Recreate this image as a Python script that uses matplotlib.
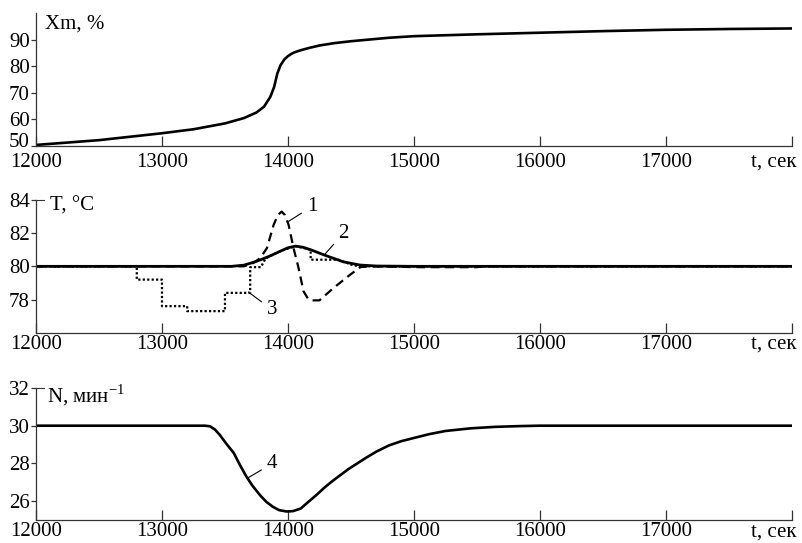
import matplotlib
matplotlib.use("Agg")
import matplotlib.pyplot as plt
from matplotlib.transforms import ScaledTranslation

# шрифт в стиле Times
plt.rcParams["font.family"] = ["Liberation Serif", "DejaVu Serif"]
plt.rcParams["mathtext.fontset"] = "custom"
plt.rcParams["mathtext.rm"] = "Liberation Serif"
plt.rcParams["font.size"] = 15

# ---- данные ----
x_ticks = [12000, 13000, 14000, 15000, 16000, 17000, 18000]
x_ticklabels = ["12000", "13000", "14000", "15000", "16000", "17000", ""]

# Xm, %
t_x = [12000, 12250, 12500, 12750, 13000, 13250, 13500, 13650, 13750, 13810, 13860,
       13890, 13915, 13940, 13970, 14000, 14025, 14050, 14100, 14170, 14250, 14370,
       14500, 14800, 15000, 15500, 16000, 16500, 17000, 17500, 18000]
xm = [50.4, 51.3, 52.2, 53.5, 54.8, 56.3, 58.5, 60.5, 62.6, 64.8, 68.5,
      72.2, 77.2, 80.3, 82.5, 83.8, 84.6, 85.2, 86.0, 86.9, 87.8, 88.7,
      89.4, 90.7, 91.3, 92.0, 92.6, 93.2, 93.7, 94.0, 94.2]

# T, °C: кривая 1 (штрих)
t_1 = [12000, 13650, 13725, 13780, 13833, 13886, 13920, 13950, 13975, 14005, 14044,
       14084, 14123, 14163, 14200, 14250, 14362, 14494, 14574, 14650, 15050, 15500,
       15550, 18000]
temp_1 = [80, 80, 80.2, 80.5, 81.1, 82.5, 83.1, 83.3, 83.1, 82.5, 81.1,
          79.9, 78.5, 78.0, 77.95, 77.95, 78.7, 79.5, 79.95, 80, 79.95, 79.95,
          80, 80]

# кривая 2 (сплошная)
t_2 = [12000, 13550, 13650, 13750, 13850, 13950, 14000, 14060, 14120, 14180, 14300,
       14440, 14570, 14700, 15000, 18000]
temp_2 = [80, 80, 80.07, 80.3, 80.6, 80.95, 81.12, 81.22, 81.15, 81.0, 80.65,
          80.27, 80.08, 80.02, 80, 80]

# кривая 3 (пунктир, ступенчатая)
t_3 = [12000, 12800, 12800, 13000, 13000, 13200, 13200, 13500, 13500, 13700, 13700,
       13785, 13820, 13850, 13950, 14060, 14180, 14180, 14400, 14520, 14650, 18000]
temp_3 = [80, 80, 79.2, 79.2, 77.6, 77.6, 77.3, 77.3, 78.4, 78.4, 79.95,
          79.95, 80.45, 80.6, 80.95, 81.22, 81.0, 80.4, 80.4, 80.05, 80, 80]

# N, мин-1: кривая 4
t_4 = [12000, 13340, 13380, 13420, 13460, 13510, 13570, 13620, 13670, 13720, 13780,
       13830, 13880, 13930, 13990, 14040, 14100, 14160, 14230, 14290, 14350, 14420,
       14480, 14550, 14620, 14700, 14800, 14900, 15000, 15120, 15250, 15450, 15650,
       15850, 16000, 18000]
n_4 = [30, 30, 29.97, 29.8, 29.5, 29.05, 28.55, 27.9, 27.3, 26.8, 26.3,
       25.95, 25.7, 25.52, 25.45, 25.47, 25.6, 25.95, 26.35, 26.72, 27.05, 27.4,
       27.7, 28.0, 28.3, 28.62, 28.95, 29.18, 29.35, 29.55, 29.72, 29.86, 29.94,
       29.98, 30, 30]

fig = plt.figure(figsize=(8.03, 5.43), dpi=100)
ax1 = fig.add_axes([0.0448, 0.7311, 0.9415, 0.2449])
ax2 = fig.add_axes([0.0448, 0.3873, 0.9415, 0.2444])
ax3 = fig.add_axes([0.0448, 0.0424, 0.9415, 0.2431])

spine_col = "#333333"
for ax, xpad in ((ax1, 5), (ax2, 1.5), (ax3, 1.5)):
    ax.set_xlim(12000, 18000)
    ax.set_xticks(x_ticks)
    ax.set_xticklabels(x_ticklabels)
    ax.spines["right"].set_visible(False)
    ax.spines["top"].set_visible(False)
    for s in ("left", "bottom"):
        ax.spines[s].set_color(spine_col)
        ax.spines[s].set_linewidth(0.9)
    ax.tick_params(axis="x", direction="in", length=7, width=0.9, color=spine_col, pad=xpad)
    ax.tick_params(axis="y", direction="out", length=3.5, width=0.9, color=spine_col, pad=1)
    ax.annotate("t, сек", xy=(1, 0), xycoords="axes fraction", xytext=(3, -xpad),
                textcoords="offset points", ha="right", va="top")

# верхний график: Xm
ax1.plot(t_x, xm, color="black", linewidth=1.9)
ax1.set_ylim(50, 100)
ax1.set_yticks([50, 60, 70, 80, 90])
ax1.text(0.012, 0.917, "Xm, %", transform=ax1.transAxes, ha="left", va="center")
# подпись «50» чуть выше, чтобы не наезжала на «12000»
lab50 = ax1.get_yticklabels()[0]
lab50.set_transform(lab50.get_transform() + ScaledTranslation(0, 4 / 72, fig.dpi_scale_trans))

# средний график: T
ax2.plot(t_2, temp_2, color="black", linewidth=2.0)
ax2.plot(t_1, temp_1, color="black", linewidth=1.6, linestyle=(0, (4, 2.5)))
ax2.plot(t_3, temp_3, color="black", linewidth=1.6, linestyle=(0, (1, 1)))
ax2.set_ylim(76, 84)
ax2.set_yticks([78, 80, 82, 84])
ax2.spines["top"].set_visible(True)
ax2.spines["top"].set_bounds(12000, 12065)
ax2.spines["top"].set_color(spine_col)
ax2.text(0.0185, 0.955, "T, °C", transform=ax2.transAxes, ha="left", va="center")

lead = dict(arrowstyle="-", color="black", linewidth=0.8, shrinkA=2, shrinkB=0)
ax2.annotate("1", xy=(14002, 82.7), xytext=(14190, 83.6), ha="center", va="center",
             arrowprops=lead)
ax2.annotate("2", xy=(14295, 80.75), xytext=(14441, 82.0), ha="center", va="center",
             arrowprops=lead)
ax2.annotate("3", xy=(13686, 78.45), xytext=(13872, 77.4), ha="center", va="center",
             arrowprops=lead)

# нижний график: N
ax3.plot(t_4, n_4, color="black", linewidth=1.9)
ax3.set_ylim(25, 32)
ax3.set_yticks([26, 28, 30, 32])
ax3.spines["top"].set_visible(True)
ax3.spines["top"].set_bounds(12000, 12065)
ax3.spines["top"].set_color(spine_col)
ax3.text(0.0146, 0.947, "N, мин$^{-1}$", transform=ax3.transAxes, ha="left", va="center")
ax3.annotate("4", xy=(13674, 27.2), xytext=(13872, 27.98), ha="center", va="center",
             arrowprops=lead)

fig.savefig("out.png", dpi=100)
